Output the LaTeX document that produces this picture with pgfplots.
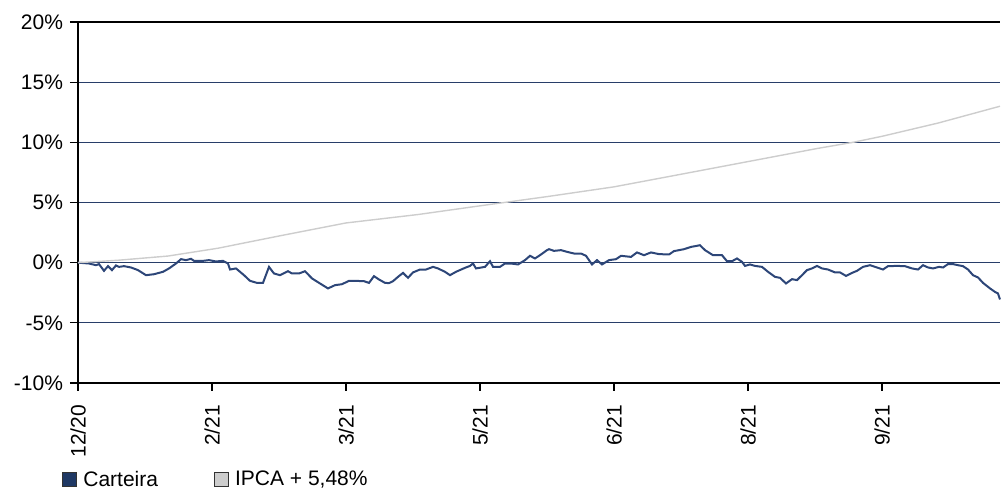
\documentclass[border=0pt]{standalone}
\usepackage{fontspec}
\setmainfont{Liberation Sans}
\usepackage{pgfplots}
\pgfplotsset{compat=1.18}
\definecolor{gridblue}{RGB}{40,62,105}
\definecolor{cartblue}{RGB}{45,70,120}
\definecolor{legblue}{RGB}{31,56,100}
\definecolor{ipcagray}{RGB}{205,205,205}

\pgfplotstableread{
x y
0 0
11 -0.07
18 -0.21
21 -0.12
26 -0.68
30 -0.29
34 -0.62
38 -0.23
41 -0.35
46 -0.29
53 -0.40
60 -0.62
68 -1.04
76 -0.96
85 -0.76
91 -0.48
98 -0.07
103 0.29
108 0.21
113 0.32
116 0.15
125 0.15
131 0.21
138 0.10
145 0.15
150 -0.07
152 -0.57
158 -0.48
166 -1.04
172 -1.51
179 -1.68
185 -1.68
191 -0.35
196 -0.90
202 -1.04
210 -0.71
214 -0.90
221 -0.90
227 -0.71
234 -1.31
242 -1.73
250 -2.14
257 -1.87
264 -1.79
271 -1.51
277 -1.51
286 -1.54
291 -1.68
296 -1.12
301 -1.40
307 -1.68
311 -1.70
315 -1.54
320 -1.18
325 -0.85
330 -1.26
335 -0.81
342 -0.57
348 -0.57
355 -0.35
360 -0.48
367 -0.76
372 -1.04
378 -0.76
387 -0.43
392 -0.27
395 -0.07
398 -0.48
407 -0.35
412 0.12
415 -0.35
422 -0.35
427 -0.07
433 -0.07
440 -0.15
447 0.21
452 0.57
457 0.35
463 0.68
469 1.04
471 1.12
476 0.98
483 1.04
489 0.90
496 0.76
503 0.76
508 0.57
511 0.21
514 -0.15
519 0.21
524 -0.15
531 0.21
538 0.29
543 0.57
553 0.48
559 0.85
566 0.62
573 0.85
581 0.71
591 0.68
596 0.96
606 1.12
613 1.31
619 1.40
622 1.45
627 1.04
635 0.62
644 0.62
649 0.12
654 0.12
659 0.35
664 0.07
667 -0.27
672 -0.15
677 -0.27
684 -0.35
690 -0.76
697 -1.18
702 -1.26
708 -1.73
714 -1.37
719 -1.45
724 -1.04
729 -0.62
734 -0.48
739 -0.27
744 -0.48
750 -0.57
757 -0.81
762 -0.81
768 -1.10
774 -0.85
779 -0.68
785 -0.35
792 -0.21
799 -0.40
805 -0.57
810 -0.29
819 -0.27
827 -0.29
834 -0.48
840 -0.57
845 -0.21
850 -0.40
855 -0.48
861 -0.35
865 -0.40
870 -0.12
875 -0.12
880 -0.21
885 -0.29
890 -0.57
895 -1.04
900 -1.23
905 -1.68
912 -2.14
917 -2.43
920 -2.56
922 -3.06
}\carteira

\pgfplotstableread{
x y
0 0
40 0.2
90 0.55
140 1.2
200 2.2
268 3.3
340 4.0
400 4.7
470 5.5
536 6.3
600 7.3
670 8.4
740 9.5
775 10.0
804 10.5
860 11.6
922 13.0
}\ipca

\begin{document}
\begin{tikzpicture}
\begin{axis}[
    name=ax,
    scale only axis,
    width=461pt, height=180.5pt,
    xmin=0, xmax=922,
    ymin=-10, ymax=20,
    axis lines*=left,
    axis line style={black, line width=0.8pt},
    tick style={black, line width=0.6pt},
    tick align=outside,
    major tick length=4pt,
    xtick={0,134,268,402,536,670,804},
    xticklabels={12/20,2/21,3/21,5/21,6/21,8/21,9/21},
    ytick={-10,-5,0,5,10,15,20},
    yticklabels={-10\%,-5\%,0\%,5\%,10\%,15\%,20\%},
    xticklabel style={rotate=90, anchor=east, xshift=-3.5pt, font=\fontsize{10.5}{12}\selectfont},
    yticklabel style={font=\fontsize{10.5}{12}\selectfont},
    ymajorgrids,
    grid style={gridblue, line width=0.6pt},
    clip=false,
    legend columns=2,
    legend style={
        at={(rel axis cs:0,0)}, anchor=west,
        xshift=-8pt, yshift=-48.5pt,
        draw=none, fill=none, inner sep=0pt,
        font=\fontsize{10.5}{12}\selectfont,
        /tikz/every even column/.append style={column sep=25pt},
        nodes={inner xsep=3pt},
    },
]
\addplot[cartblue, line width=1pt,
    legend image code/.code={\draw[fill=legblue, draw=black!80, line width=0.5pt] (0pt,-3.5pt) rectangle (7pt,3.5pt);}]
    table[x=x, y=y] {\carteira};
\addlegendentry{Carteira}
\addplot[ipcagray, line width=0.7pt,
    legend image code/.code={\draw[fill=ipcagray, draw=black!80, line width=0.5pt] (0pt,-3.5pt) rectangle (7pt,3.5pt);}]
    table[x=x, y=y] {\ipca};
\addlegendentry{IPCA + 5,48\%}
\draw[black, line width=0.8pt] (rel axis cs:0,1) -- (rel axis cs:1,1);
\end{axis}
\pgfresetboundingbox
\path[use as bounding box] ([xshift=-39pt, yshift=-54pt]ax.south west) rectangle ([xshift=1pt, yshift=11pt]ax.north east);
\end{tikzpicture}
\end{document}
